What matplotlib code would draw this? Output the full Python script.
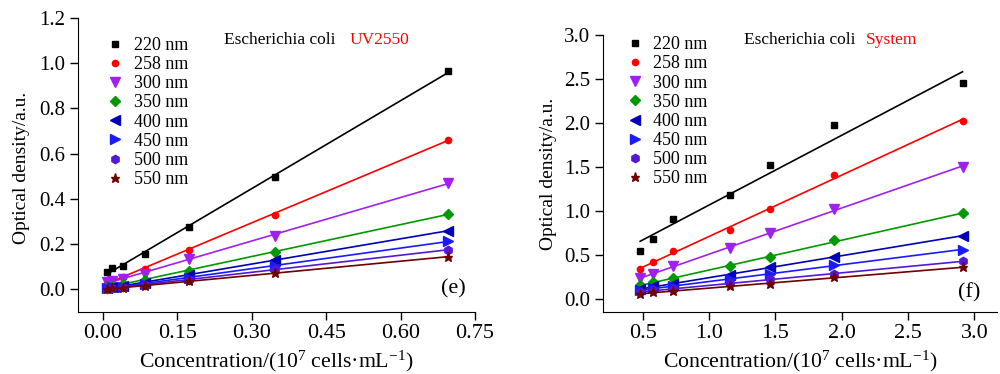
import matplotlib
matplotlib.use('Agg')
import matplotlib.pyplot as plt
import numpy as np

plt.rcParams['font.family'] = 'Liberation Serif'
plt.rcParams['mathtext.fontset'] = 'custom'
plt.rcParams['mathtext.rm'] = 'Liberation Serif'
plt.rcParams['mathtext.it'] = 'Liberation Serif:italic'

# wavelengths and their styles
labels = ['220 nm', '258 nm', '300 nm', '350 nm', '400 nm', '450 nm', '500 nm', '550 nm']
colors = ['#000000', '#ff0000', '#a020f0', '#009900', '#0000b4', '#1a1aff', '#5218d6', '#6e0000']
markers = ['s', 'o', 'v', 'D', '<', '>', 'h', '*']
msizes = [4, 4.5, 6.5, 5.5, 6.5, 6.5, 6, 6.5]

# panel (e): UV2550
x_e = [0.009, 0.019, 0.040, 0.085, 0.173, 0.347, 0.695]
y_e = [
    [0.075, 0.095, 0.105, 0.157, 0.275, 0.495, 0.965],
    [0.030, 0.040, 0.056, 0.090, 0.175, 0.330, 0.662],
    [0.034, 0.038, 0.046, 0.068, 0.132, 0.237, 0.471],
    [0.009, 0.016, 0.024, 0.041, 0.083, 0.164, 0.333],
    [0.005, 0.010, 0.015, 0.030, 0.062, 0.128, 0.260],
    [0.004, 0.008, 0.012, 0.025, 0.050, 0.105, 0.212],
    [0.003, 0.006, 0.010, 0.020, 0.040, 0.088, 0.175],
    [0.002, 0.004, 0.007, 0.015, 0.035, 0.070, 0.145],
]

# panel (f): System
x_f = [0.48, 0.58, 0.73, 1.16, 1.46, 1.94, 2.91]
y_f = [
    [0.549, 0.678, 0.905, 1.180, 1.527, 1.973, 2.450],
    [0.337, 0.417, 0.545, 0.784, 1.023, 1.409, 2.027],
    [0.235, 0.284, 0.375, 0.572, 0.746, 1.023, 1.504],
    [0.159, 0.186, 0.235, 0.367, 0.473, 0.663, 0.973],
    [0.110, 0.140, 0.170, 0.273, 0.356, 0.480, 0.716],
    [0.095, 0.120, 0.140, 0.223, 0.284, 0.386, 0.557],
    [0.072, 0.095, 0.110, 0.178, 0.223, 0.284, 0.424],
    [0.053, 0.072, 0.091, 0.140, 0.170, 0.246, 0.356],
]

fig = plt.figure(figsize=(10, 3.74), dpi=100)
ax1 = fig.add_axes([0.078, 0.166, 0.397, 0.786])
ax2 = fig.add_axes([0.603, 0.166, 0.394, 0.740])


def draw(ax, x, ys):
    x = np.array(x)
    for i, y in enumerate(ys):
        ax.plot(x, y, linestyle='none', marker=markers[i], color=colors[i],
                markersize=msizes[i], label=labels[i])
        # linear fit line
        k, b = np.polyfit(x, y, 1)
        ax.plot(x[[0, -1]], k * x[[0, -1]] + b, color=colors[i], lw=1.2)
    for s in ['top', 'right']:
        ax.spines[s].set_visible(False)
    ax.tick_params(direction='out', length=6, width=1, pad=3)
    ax.tick_params(axis='x', labelsize=16)
    ax.tick_params(axis='y', labelsize=15)
    ax.set_xlabel('Concentration/(10$^7$ cells·mL$^{-1}$)', fontsize=15.7)
    ax.set_ylabel('Optical density/a.u.', fontsize=14)


draw(ax1, x_e, y_e)
ax1.set_xlim(-0.05, 0.75)
ax1.set_ylim(-0.1, 1.2)
ax1.set_xticks([0.0, 0.15, 0.30, 0.45, 0.60, 0.75])
ax1.set_yticks([0.0, 0.2, 0.4, 0.6, 0.8, 1.0, 1.2])
ax1.xaxis.set_major_formatter(matplotlib.ticker.FormatStrFormatter('%.2f'))
ax1.yaxis.set_major_formatter(matplotlib.ticker.FormatStrFormatter('%.1f'))
ax1.yaxis.set_label_coords(-0.121, 0.49)

draw(ax2, x_f, y_f)
ax2.set_xlim(0.2, 3.17)
ax2.set_ylim(-0.15, 3.0)
ax2.set_xticks([0.5, 1.0, 1.5, 2.0, 2.5, 3.0])
ax2.set_yticks([0.0, 0.5, 1.0, 1.5, 2.0, 2.5, 3.0])
ax2.xaxis.set_major_formatter(matplotlib.ticker.FormatStrFormatter('%.1f'))
ax2.yaxis.set_major_formatter(matplotlib.ticker.FormatStrFormatter('%.1f'))
ax2.yaxis.set_label_coords(-0.117, 0.50)

for ax, anchor in [(ax1, (0.058, 0.96)), (ax2, (0.045, 1.022))]:
    ax.legend(loc='upper left', bbox_to_anchor=anchor, frameon=False, fontsize=13,
              handlelength=0.8, handletextpad=0.6, labelspacing=0.12, borderaxespad=0)

fig.text(0.224, 0.893, 'Escherichia coli', fontsize=12.5, va='center')
fig.text(0.350, 0.893, 'UV2550', fontsize=12.5, va='center', color='#ff0000')
fig.text(0.744, 0.893, 'Escherichia coli', fontsize=12.5, va='center')
fig.text(0.866, 0.893, 'System', fontsize=12.5, va='center', color='#ff0000')
fig.text(0.453, 0.227, '(e)', fontsize=16, ha='center', va='center')
fig.text(0.969, 0.217, '(f)', fontsize=16, ha='center', va='center')

fig.savefig('out.png', dpi=100)
